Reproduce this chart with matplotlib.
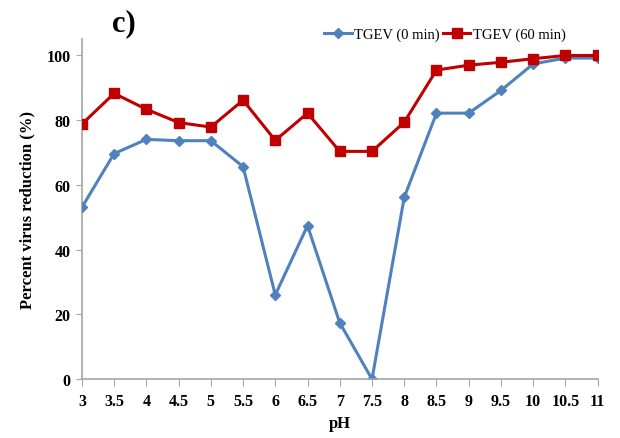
import matplotlib
matplotlib.use("Agg")
import matplotlib.pyplot as plt

ph_labels = ["3", "3.5", "4", "4.5", "5", "5.5", "6", "6.5", "7", "7.5",
             "8", "8.5", "9", "9.5", "10", "10.5", "11"]
tgev_0 = [53.0, 69.6, 74.0, 73.6, 73.6, 65.6, 26.0, 47.4, 17.4, 0.0,
          56.1, 82.1, 82.1, 89.1, 97.3, 99.1, 99.1]
tgev_60 = [78.7, 88.2, 83.3, 79.2, 77.8, 86.1, 73.7, 82.1, 70.3, 70.3,
           79.3, 95.4, 96.9, 97.8, 98.9, 99.9, 99.9]

plt.rcParams['font.family'] = ['Liberation Serif', 'DejaVu Serif']

fig = plt.figure(figsize=(6.2, 4.39), dpi=100)
ax = fig.add_axes([0.132, 0.134, 0.832, 0.775])

x = list(range(len(ph_labels)))
ax.plot(x, tgev_0, color='#4F81BD', lw=2.2, marker='D', ms=5.5,
        label='TGEV (0 min)')
ax.plot(x, tgev_60, color='#C00000', lw=2.2, marker='s', ms=7,
        label='TGEV (60 min)')

ax.set_xlim(0, len(ph_labels) - 1)
ax.set_ylim(0, 105)
ax.set_xticks(x)
ax.set_xticklabels(ph_labels)
ax.set_yticks([0, 20, 40, 60, 80, 100])

for s in ['top', 'right']:
    ax.spines[s].set_visible(False)
for s in ['left', 'bottom']:
    ax.spines[s].set_color('#A6A6A6')
    ax.spines[s].set_linewidth(1.2)
ax.spines['left'].set_zorder(0)
ax.tick_params(axis='x', direction='out', length=5, color='#A6A6A6', pad=5)
ax.tick_params(axis='y', direction='out', length=4, color='#A6A6A6', pad=4)
for lbl in ax.get_xticklabels() + ax.get_yticklabels():
    lbl.set_fontweight('bold')
    lbl.set_fontsize(11.5)

ax.set_xlabel('pH', fontsize=12, fontweight='bold', labelpad=4)
ax.set_ylabel('Percent virus reduction (%)', fontsize=12, fontweight='bold',
              labelpad=8)

fig.legend(loc='center right', bbox_to_anchor=(0.912, 0.919), ncol=2,
           frameon=False, fontsize=10.5, handlelength=1.9, columnspacing=0.2,
           handletextpad=0.15, borderaxespad=0, borderpad=0)

fig.text(0.2, 0.945, 'c)', fontsize=22, fontweight='bold', ha='center',
         va='center')

fig.savefig('out.png', dpi=100)
